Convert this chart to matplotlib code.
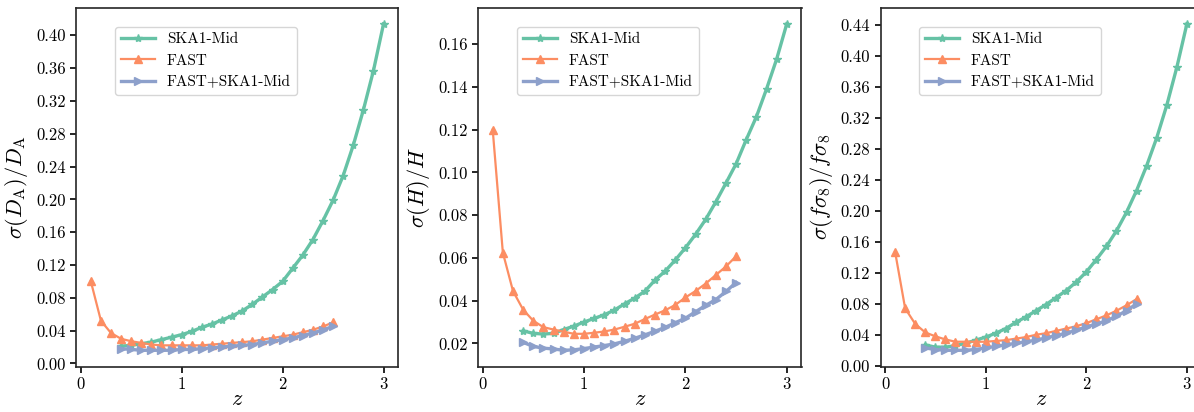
import numpy as np
import matplotlib
matplotlib.use("Agg")
import matplotlib.pyplot as plt
from matplotlib.ticker import MultipleLocator, FormatStrFormatter

plt.rcParams['font.family'] = 'serif'
plt.rcParams['font.serif'] = ['cmr10', 'DejaVu Serif']
plt.rcParams['mathtext.fontset'] = 'cm'
plt.rcParams['axes.formatter.use_mathtext'] = True

# ---------------- data ----------------
z_ska = [round(0.4 + 0.1 * i, 1) for i in range(27)]   # 0.4 ... 3.0
z_fast = [round(0.1 + 0.1 * i, 1) for i in range(25)]  # 0.1 ... 2.5
z_comb = [round(0.4 + 0.1 * i, 1) for i in range(22)]  # 0.4 ... 2.5

ska_DA = [0.021, 0.022, 0.024, 0.026, 0.029, 0.032, 0.035, 0.039, 0.044, 0.048,
          0.053, 0.058, 0.064, 0.072, 0.081, 0.090, 0.100, 0.116, 0.132, 0.151,
          0.174, 0.199, 0.229, 0.266, 0.309, 0.357, 0.414]
fast_DA = [0.100, 0.052, 0.037, 0.030, 0.027, 0.025, 0.023, 0.022, 0.022, 0.022,
           0.022, 0.022, 0.023, 0.024, 0.025, 0.026, 0.027, 0.029, 0.031, 0.033,
           0.035, 0.038, 0.041, 0.045, 0.050]
comb_DA = [0.018, 0.017, 0.016, 0.016, 0.016, 0.016, 0.017, 0.017, 0.018, 0.019,
           0.020, 0.021, 0.022, 0.023, 0.025, 0.027, 0.029, 0.031, 0.034, 0.037,
           0.041, 0.045]

ska_H = [0.0259, 0.0247, 0.0244, 0.0247, 0.0265, 0.0281, 0.0300, 0.0317, 0.0334, 0.0356,
         0.0385, 0.0412, 0.0444, 0.0496, 0.0538, 0.0590, 0.0647, 0.0710, 0.0780, 0.0862,
         0.0950, 0.1040, 0.1153, 0.1260, 0.1390, 0.1530, 0.1695]
fast_H = [0.120, 0.0625, 0.0445, 0.0358, 0.0306, 0.0276, 0.0265, 0.0255, 0.0245, 0.0245,
          0.0250, 0.0256, 0.0265, 0.0278, 0.0292, 0.0314, 0.0335, 0.0355, 0.0380, 0.0415,
          0.0445, 0.0480, 0.0520, 0.0560, 0.0608]
comb_H = [0.0205, 0.0186, 0.0178, 0.0174, 0.0168, 0.0170, 0.0176, 0.0183, 0.0190, 0.0198,
          0.0210, 0.0224, 0.0240, 0.0257, 0.0275, 0.0297, 0.0318, 0.0348, 0.0378, 0.0405,
          0.0443, 0.0485]

ska_fs8 = [0.027, 0.024, 0.024, 0.026, 0.029, 0.033, 0.037, 0.042, 0.048, 0.056,
           0.063, 0.071, 0.079, 0.088, 0.097, 0.108, 0.121, 0.137, 0.154, 0.174,
           0.198, 0.226, 0.258, 0.294, 0.336, 0.385, 0.441]
fast_fs8 = [0.147, 0.074, 0.054, 0.043, 0.038, 0.034, 0.031, 0.031, 0.031, 0.031,
            0.032, 0.033, 0.035, 0.037, 0.040, 0.042, 0.045, 0.048, 0.051, 0.055,
            0.060, 0.065, 0.071, 0.078, 0.086]
comb_fs8 = [0.023, 0.021, 0.020, 0.020, 0.020, 0.021, 0.023, 0.025, 0.027, 0.029,
            0.031, 0.033, 0.036, 0.039, 0.042, 0.046, 0.050, 0.054, 0.058, 0.064,
            0.071, 0.080]

labels = ['SKA1-Mid', 'FAST', 'FAST+SKA1-Mid']
ylabels = [r'$\sigma(D_{\rm A})/D_{\rm A}$', r'$\sigma(H)/H$',
           r'$\sigma(f\sigma_8)/f\sigma_8$']
ytick_steps = [0.04, 0.02, 0.04]
colors = ['#66c2a5', '#fc8d62', '#8da0cb']
markers = ['*', '^', '>']

panels = [(ska_DA, fast_DA, comb_DA), (ska_H, fast_H, comb_H),
          (ska_fs8, fast_fs8, comb_fs8)]

W, H = 1194, 412
fig = plt.figure(figsize=(W / 100, H / 100), dpi=100)
lefts = [76.2, 478.0, 880.5]
widths = [322.0, 323.5, 321.0]
bottom_px, top_px = 366.6, 7.5

for i, (ska, fast, comb) in enumerate(panels):
    ax = fig.add_axes([lefts[i] / W, (H - bottom_px) / H, widths[i] / W,
                       (bottom_px - top_px) / H])
    ax.plot(z_ska, ska, color=colors[0], marker=markers[0], lw=2.4, ms=6,
            label=labels[0])
    ax.plot(z_fast, fast, color=colors[1], marker=markers[1], lw=1.6, ms=6,
            label=labels[1])
    ax.plot(z_comb, comb, color=colors[2], marker=markers[2], lw=2.4, ms=6,
            label=labels[2])
    ax.yaxis.set_major_locator(MultipleLocator(ytick_steps[i]))
    ax.yaxis.set_major_formatter(FormatStrFormatter('%.2f'))
    ax.xaxis.set_major_locator(MultipleLocator(1))
    ax.xaxis.set_major_formatter(FormatStrFormatter('%d'))
    ax.tick_params(labelsize=12, direction='out', length=4, width=1.2)
    for sp in ax.spines.values():
        sp.set_linewidth(1.2)
        sp.set_color('0.15')
    ax.set_xlabel(r'$z$', fontsize=16, labelpad=-2)
    ax.set_ylabel(ylabels[i], fontsize=16, labelpad=4)
    ax.legend(loc='upper left', bbox_to_anchor=(0.12, 0.947), borderaxespad=0,
              fontsize=11, handlelength=2.2)

fig.savefig('out.png', dpi=100)
